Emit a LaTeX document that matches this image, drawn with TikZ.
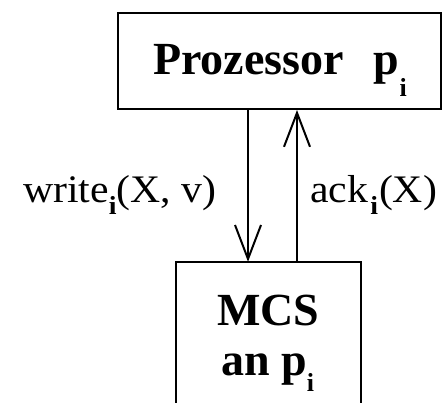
\documentclass[tikz,border=0pt]{standalone}
\usepackage{fontspec}
\setmainfont{Liberation Serif}
\usetikzlibrary{arrows.meta}
\tikzset{
  box/.style={draw, line width=2pt, inner sep=0pt},
  arr/.style={line width=2pt, -{Straight Barb[length=34pt,width=26pt,line width=2pt]}},
  boldtxt/.style={font=\fontsize{46}{48}\selectfont\bfseries, inner sep=0pt, anchor=base west},
  regtxt/.style={font=\fontsize{39}{44}\selectfont, inner sep=0pt, anchor=base west}
}
\newcommand{\subi}[1]{\raisebox{-#1}{\fontsize{26}{26}\selectfont\bfseries i}}
\begin{document}
\begin{tikzpicture}[x=1pt,y=-1pt]
\useasboundingbox (0,0) rectangle (446,403);
% top box
\node[box, minimum width=323pt, minimum height=96pt] (proc) at (279.5,61) {};
\node[boldtxt] (proctxt) at (153,75) {Prozessor\hspace{30pt}p\subi{22pt}};
% bottom box (open at bottom, continues past the edge)
\node[inner sep=0pt, minimum width=185pt, minimum height=160pt] (mcs) at (268.5,342) {};
\draw[line width=2pt] (mcs.south west) -- (mcs.north west) -- (mcs.north east) -- (mcs.south east);
\node[boldtxt] (mcstxt1) at (217,325) {MCS};
\node[boldtxt] (mcstxt2) at (221,375) {an p\subi{16pt}};
% arrows
\coordinate (c1) at (248,0);
\coordinate (c2) at (297,0);
\draw[arr] (proc.south -| c1) -- (mcs.north -| c1);
\draw[arr] (mcs.north -| c2) -- (proc.south -| c2);
% labels
\node[regtxt] (wlab) at (23,202) {\scalebox{1.07}[1]{write\subi{12pt}(X, v)}};
\node[regtxt] (alab) at (310,202) {\scalebox{1.07}[1]{ack\kern2pt\subi{12pt}\kern1pt(X)}};
\end{tikzpicture}
\end{document}
